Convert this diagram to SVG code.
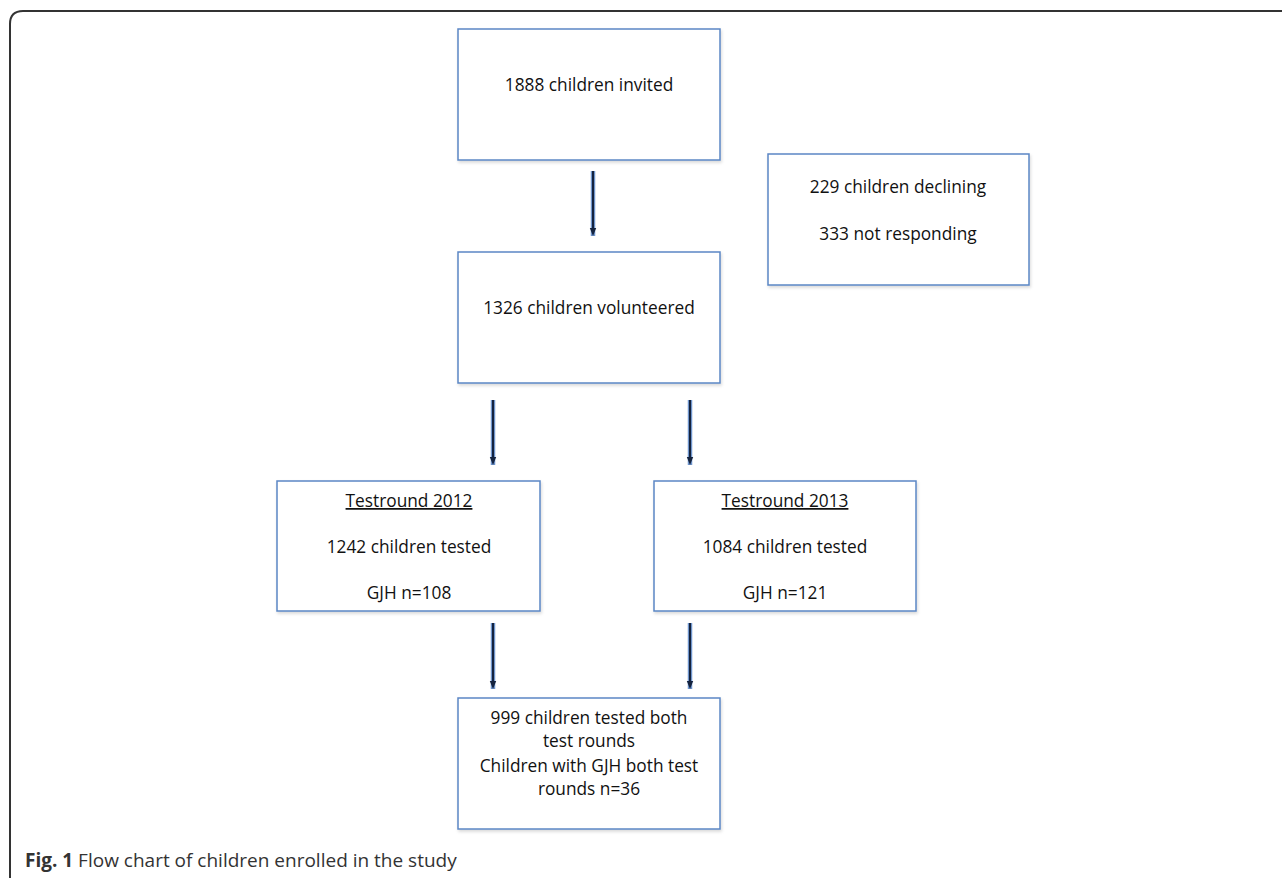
<svg xmlns="http://www.w3.org/2000/svg" width="1282" height="878" viewBox="0 0 1282 878">
<defs>
<style>
.box{fill:#fff;stroke:#5b87c5;stroke-width:1.5}
.t{font-family:"Open Sans","Liberation Sans",sans-serif;font-size:17.3px;fill:#111;text-anchor:middle}
.arr{stroke:#6f95cc;stroke-width:4.5}
.arri{stroke:#14233f;stroke-width:2}
.cap{font-family:"Open Sans","Liberation Sans",sans-serif;font-size:19px;fill:#333}
</style>
<marker id="ah" viewBox="0 0 10 10" refX="5" refY="5" markerWidth="4" markerHeight="4" orient="auto" markerUnits="strokeWidth">
<path d="M0,1 L10,5 L0,9 Z" fill="#14233f"/>
</marker>
<filter id="sh" x="-5%" y="-5%" width="110%" height="115%">
<feDropShadow dx="1" dy="2" stdDeviation="1.5" flood-color="#000" flood-opacity="0.15"/>
</filter>
</defs>
<rect width="1282" height="878" fill="#fff"/>
<path d="M10,878 L10,24 Q10,11 23,11 L1282,11" fill="none" stroke="#333" stroke-width="2"/>
<g id="connectors">
<line class="arr" x1="593" y1="171" x2="593" y2="236"/>
<line class="arri" x1="593" y1="171" x2="593" y2="232" marker-end="url(#ah)"/>
<line class="arr" x1="493" y1="400" x2="493" y2="465"/>
<line class="arri" x1="493" y1="400" x2="493" y2="461" marker-end="url(#ah)"/>
<line class="arr" x1="690" y1="400" x2="690" y2="465"/>
<line class="arri" x1="690" y1="400" x2="690" y2="461" marker-end="url(#ah)"/>
<line class="arr" x1="493" y1="623" x2="493" y2="689"/>
<line class="arri" x1="493" y1="623" x2="493" y2="685" marker-end="url(#ah)"/>
<line class="arr" x1="690" y1="623" x2="690" y2="689"/>
<line class="arri" x1="690" y1="623" x2="690" y2="685" marker-end="url(#ah)"/>
</g>
<g id="invited">
<rect class="box" x="458" y="29" width="262" height="131" filter="url(#sh)"/>
<text class="t" x="589" y="91">1888 children invited</text>
</g>
<g id="declined">
<rect class="box" x="768" y="154" width="261" height="131" filter="url(#sh)"/>
<text class="t" x="898" y="193">229 children declining</text>
<text class="t" x="898" y="240">333 not responding</text>
</g>
<g id="volunteered">
<rect class="box" x="458" y="252" width="262" height="131" filter="url(#sh)"/>
<text class="t" x="589" y="314">1326 children volunteered</text>
</g>
<g id="round2012">
<rect class="box" x="277" y="481" width="263" height="130" filter="url(#sh)"/>
<text class="t" x="409" y="507" text-decoration="underline">Testround 2012</text>
<text class="t" x="409" y="553">1242 children tested</text>
<text class="t" x="409" y="599">GJH n=108</text>
</g>
<g id="round2013">
<rect class="box" x="654" y="481" width="262" height="130" filter="url(#sh)"/>
<text class="t" x="785" y="507" text-decoration="underline">Testround 2013</text>
<text class="t" x="785" y="553">1084 children tested</text>
<text class="t" x="785" y="599">GJH n=121</text>
</g>
<g id="both">
<rect class="box" x="458" y="698" width="262" height="131" filter="url(#sh)"/>
<text class="t" x="589" y="724">999 children tested both</text>
<text class="t" x="589" y="747">test rounds</text>
<text class="t" x="589" y="772">Children with GJH both test</text>
<text class="t" x="589" y="795">rounds n=36</text>
</g>
<text class="cap" x="25" y="867"><tspan font-weight="bold">Fig. 1</tspan> Flow chart of children enrolled in the study</text>
</svg>
